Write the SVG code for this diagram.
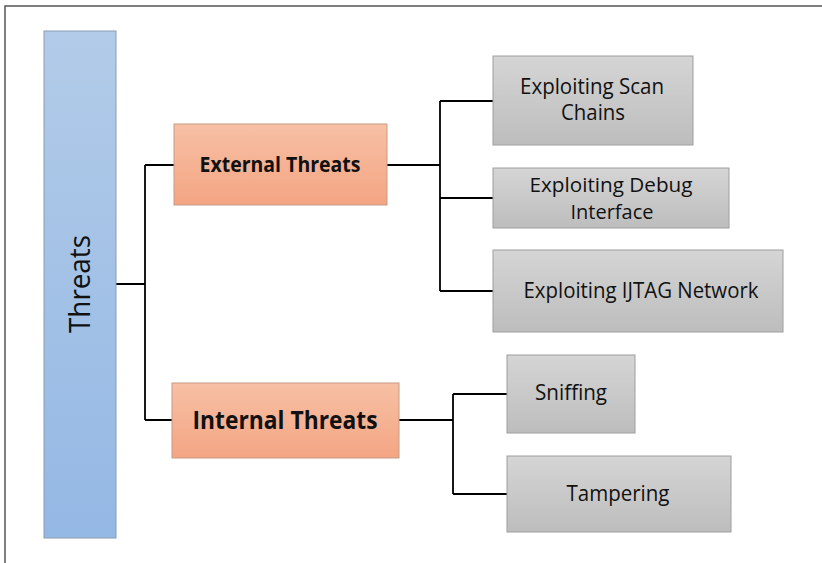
<svg xmlns="http://www.w3.org/2000/svg" width="822" height="563" viewBox="0 0 822 563">
<defs>
<linearGradient id="gBlue" x1="0" y1="0" x2="0" y2="1"><stop offset="0" stop-color="#b2cbe8"/><stop offset="1" stop-color="#94b8e4"/></linearGradient>
<linearGradient id="gOrange" x1="0" y1="0" x2="0" y2="1"><stop offset="0" stop-color="#f7c0a5"/><stop offset="1" stop-color="#f4a583"/></linearGradient>
<linearGradient id="gGray" x1="0" y1="0" x2="0" y2="1"><stop offset="0" stop-color="#d5d5d5"/><stop offset="1" stop-color="#bdbdbd"/></linearGradient>
</defs>
<style>
.t{font-family:"Open Sans","Noto Sans","Liberation Sans",sans-serif;fill:#111;text-anchor:middle}
.g{font-size:21px}
.b{font-weight:bold}
.ob{fill:url(#gOrange);stroke:#c79a84;stroke-width:1}
.gb{fill:url(#gGray);stroke:#9e9e9e;stroke-width:1}
.c{fill:none;stroke:#000;stroke-width:1.8}
</style>
<rect width="822" height="563" fill="#fff"/>
<path d="M5,563 V6 H822" fill="none" stroke="#555" stroke-width="1.5"/>
<g id="connectors">
<path class="c" d="M116,284 H145 M145,165 V420 M145,165 H174 M145,420 H172"/>
<path class="c" d="M387,165 H440 M440,101 V291 M440,101 H493 M440,198 H493 M440,291 H493"/>
<path class="c" d="M399,420 H453 M453,394 V494 M453,394 H507 M453,494 H507"/>
</g>
<g id="threats">
<rect x="44" y="31" width="72" height="507" fill="url(#gBlue)" stroke="#8a9cb2" stroke-width="1"/>
<text class="t" transform="translate(90,284) rotate(-90)" font-size="30" textLength="98" lengthAdjust="spacingAndGlyphs">Threats</text>
</g>
<g id="external">
<rect class="ob" x="174" y="124" width="213" height="81"/>
<text class="t b" x="280" y="172" font-size="21" textLength="161" lengthAdjust="spacingAndGlyphs">External Threats</text>
</g>
<g id="internal">
<rect class="ob" x="172" y="383" width="227" height="75"/>
<text class="t b" x="285" y="429" font-size="25" textLength="185" lengthAdjust="spacingAndGlyphs">Internal Threats</text>
</g>
<g id="scan">
<rect class="gb" x="493" y="56" width="200" height="89"/>
<text class="t g" x="592" y="94" textLength="144" lengthAdjust="spacingAndGlyphs">Exploiting Scan</text>
<text class="t g" x="593" y="120" textLength="64" lengthAdjust="spacingAndGlyphs">Chains</text>
</g>
<g id="debug">
<rect class="gb" x="493" y="168" width="236" height="60"/>
<text class="t" x="611" y="192" font-size="20" textLength="163" lengthAdjust="spacingAndGlyphs">Exploiting Debug</text>
<text class="t" x="612" y="219" font-size="20" textLength="83" lengthAdjust="spacingAndGlyphs">Interface</text>
</g>
<g id="ijtag">
<rect class="gb" x="493" y="250" width="290" height="82"/>
<text class="t g" x="641" y="298" textLength="235" lengthAdjust="spacingAndGlyphs">Exploiting IJTAG Network</text>
</g>
<g id="sniffing">
<rect class="gb" x="507" y="355" width="128" height="78"/>
<text class="t g" x="571" y="400" textLength="72" lengthAdjust="spacingAndGlyphs">Sniffing</text>
</g>
<g id="tampering">
<rect class="gb" x="507" y="456" width="224" height="76"/>
<text class="t g" x="618" y="501" textLength="103" lengthAdjust="spacingAndGlyphs">Tampering</text>
</g>
</svg>
